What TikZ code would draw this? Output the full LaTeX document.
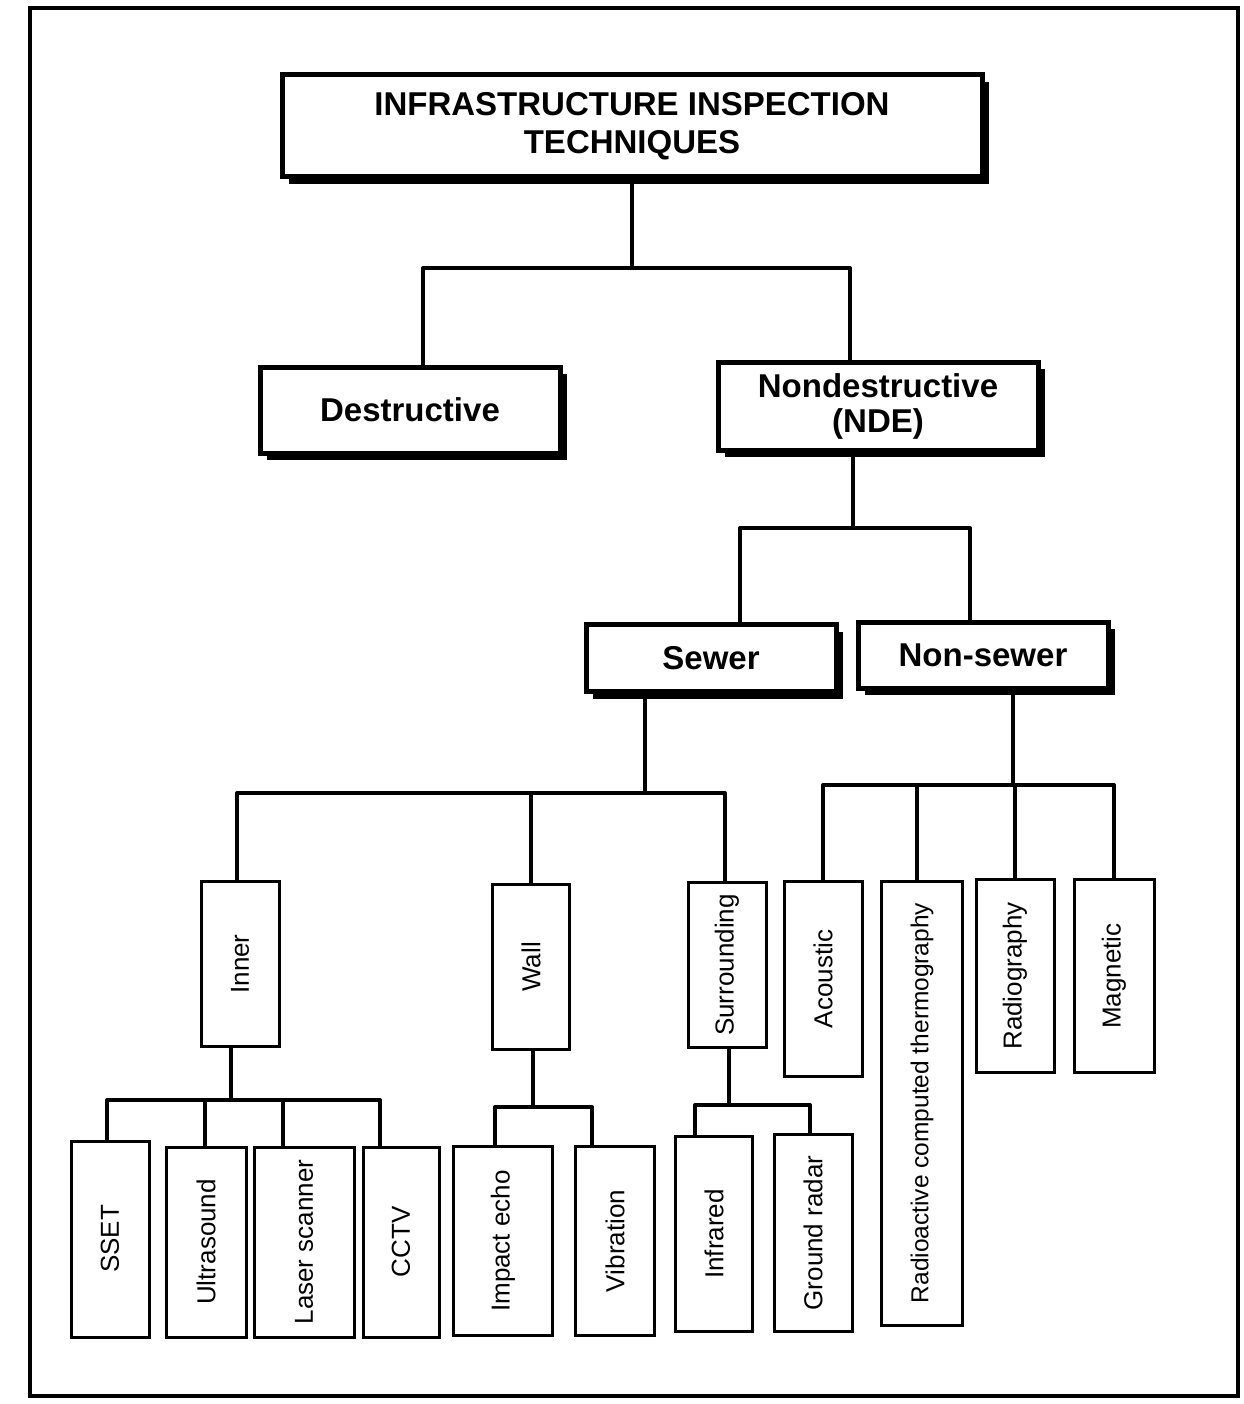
\documentclass[tikz,border=0pt]{standalone}
\usepackage{fontspec}
\setmainfont{Liberation Sans}
\usetikzlibrary{shadows}

\begin{document}
\begin{tikzpicture}[
  x=1pt, y=-1pt,
  head_box/.style={draw, fill=white, line width=5pt, inner sep=0pt, align=center,
    font=\bfseries\fontsize{33}{38}\selectfont,
    drop shadow={shadow xshift=7pt, shadow yshift=-7pt, fill=black, opacity=1}},
  mid_box/.style={head_box, font=\bfseries\fontsize{33}{35}\selectfont},
  vert_box/.style={draw, line width=3pt, rotate=90, inner sep=0pt,
    font=\fontsize{26}{28}\selectfont},
  link/.style={line width=4pt, line join=round},
]
\useasboundingbox (0,0) rectangle (1243,1404);
\draw[line width=4pt] (30,8) rectangle (1238,1396);

\draw (632,126) node (top) [head_box, minimum width=700pt, minimum height=102pt] {INFRASTRUCTURE INSPECTION\\TECHNIQUES};
\draw (410,410) node (destr) [mid_box, minimum width=300pt, minimum height=86pt] {Destructive};
\draw (878,406) node (nde) [mid_box, minimum width=320pt, minimum height=88pt] {Nondestructive\\(NDE)};
\draw (711,658) node (sewer) [mid_box, minimum width=250pt, minimum height=67pt] {Sewer};
\draw (983,655) node (nonsewer) [mid_box, minimum width=250pt, minimum height=66pt] {Non-sewer};

\draw (240,964) node (inner) [vert_box, minimum width=165pt, minimum height=78pt] {Inner};
\draw (531,967) node (wall) [vert_box, minimum width=165pt, minimum height=77pt] {Wall};
\draw (727,965) node (surr) [vert_box, minimum width=165pt, minimum height=78pt] {Surrounding};
\draw (823,979) node (acoustic) [vert_box, minimum width=195pt, minimum height=78pt] {Acoustic};
\draw (922,1103) node (rct) [vert_box, minimum width=444pt, minimum height=81pt, font=\fontsize{24.5}{28}\selectfont] {Radioactive computed thermography};
\draw (1015,976) node (radio) [vert_box, minimum width=193pt, minimum height=78pt] {Radiography};
\draw (1114,976) node (magnetic) [vert_box, minimum width=193pt, minimum height=80pt] {Magnetic};

\draw (110,1239) node (sset) [vert_box, minimum width=196pt, minimum height=78pt] {SSET};
\draw (206,1242) node (ultra) [vert_box, minimum width=190pt, minimum height=80pt] {Ultrasound};
\draw (304,1242) node (laser) [vert_box, minimum width=190pt, minimum height=100pt] {Laser scanner};
\draw (401,1242) node (cctv) [vert_box, minimum width=190pt, minimum height=76pt] {CCTV};
\draw (503,1241) node (impact) [vert_box, minimum width=189pt, minimum height=99pt] {Impact echo};
\draw (615,1241) node (vib) [vert_box, minimum width=189pt, minimum height=79pt] {Vibration};
\draw (714,1234) node (infra) [vert_box, minimum width=195pt, minimum height=77pt] {Infrared};
\draw (813,1233) node (ground) [vert_box, minimum width=197pt, minimum height=78pt] {Ground radar};

\coordinate (c_top) at (632,268);
\coordinate (c_nde) at (853,528);
\coordinate (c_sewer) at (645,793);
\coordinate (c_non) at (1013,785);
\coordinate (c_inner) at (231,1100);
\coordinate (c_wall) at (533,1107);
\coordinate (c_surr) at (729,1105);

\draw[link] (top.south) -- (c_top);
\draw[link] ([xshift=13pt]destr.north) |- (c_top) -| ([xshift=-28pt]nde.north);
\draw[link] (nde.south -| c_nde) -- (c_nde);
\draw[link] ([xshift=29pt]sewer.north) |- (c_nde) -| ([xshift=-13pt]nonsewer.north);
\draw[link] (sewer.south -| c_sewer) -- (c_sewer);
\draw[link] ([xshift=-3pt]inner.east) |- (c_sewer) -| ([xshift=-2pt]surr.east);
\draw[link] (c_sewer -| wall.east) -- (wall.east);
\draw[link] (nonsewer.south -| c_non) -- (c_non);
\draw[link] (acoustic.east) |- (c_non) -| (magnetic.east);
\draw[link] ([xshift=-5pt]rct.east) -- ([xshift=-5pt]rct.east |- c_non);
\draw[link] (radio.east) -- (radio.east |- c_non);
\draw[link] (inner.west -| c_inner) -- (c_inner);
\draw[link] ([xshift=-3pt]sset.east) |- (c_inner) -| ([xshift=-21pt]cctv.east);
\draw[link] ([xshift=-1pt]ultra.east) -- ([xshift=-1pt]ultra.east |- c_inner);
\draw[link] ([xshift=-21pt]laser.east) -- ([xshift=-21pt]laser.east |- c_inner);
\draw[link] (wall.west -| c_wall) -- (c_wall);
\draw[link] ([xshift=-8pt]impact.east) |- (c_wall) -| ([xshift=-23pt]vib.east);
\draw[link] (surr.west -| c_surr) -- (c_surr);
\draw[link] ([xshift=-19pt]infra.east) |- (c_surr) -| ([xshift=-3pt]ground.east);
\end{tikzpicture}
\end{document}
